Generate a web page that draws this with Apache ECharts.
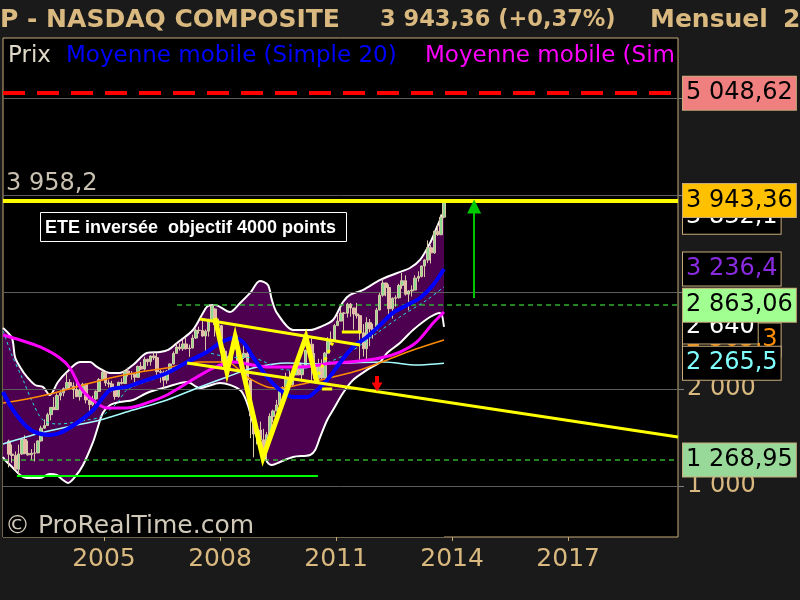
<!DOCTYPE html>
<html><head><meta charset="utf-8">
<script src="https://cdn.jsdelivr.net/npm/echarts@6/dist/echarts.min.js"></script>
<style>html,body{margin:0;padding:0;background:#1a1a1a}#c{width:800px;height:600px}</style>
</head><body><div id="c"></div>
<script>
// ---------- DATA ----------
// Monthly candles, July 2002 .. October 2013
const startYear = 2002, startMonth = 7;
const open = [1463,1328,1315,1172,1330,1479,
 1336,1321,1337,1341,1464,1596,1623,1735,1810,1787,1932,1960,
 2003,2066,2030,1994,1920,1987,2048,1887,1838,1897,1975,2097,
 2175,2062,2052,1999,1922,2068,2057,2185,2152,2152,2120,2233,
 2205,2306,2281,2340,2323,2179,2172,2091,2184,2258,2367,2432,
 2415,2464,2416,2422,2525,2605,2603,2546,2596,2701,2825,2661,
 2652,2390,2271,2279,2413,2523,2293,2326,2368,2092,1721,1536,
 1577,1476,1378,1529,1717,1774,1835,1979,2009,2122,2045,2145,
 2269,2147,2238,2398,2461,2257,2109,2255,2114,2369,2507,2498,
 2653,2700,2782,2781,2874,2835,2774,2756,2579,2415,2684,2620,
 2605,2814,2967,3092,3046,2827,2935,2940,3067,3116,2977,3010,
 3020,3142,3160,3268,3329,3456,3403,3626,3590,3771];
const high = [1478,1426,1356,1426,1494,1522,
 1467,1381,1441,1470,1621,1686,1754,1814,1916,1955,1985,2016,
 2154,2101,2069,2080,2005,2064,2055,1888,1930,1986,2112,2191,
 2179,2096,2084,2002,2076,2110,2188,2219,2185,2160,2240,2278,
 2332,2313,2345,2375,2370,2200,2190,2195,2263,2387,2469,2470,
 2508,2531,2458,2559,2623,2642,2725,2613,2725,2862,2831,2724,
 2661,2419,2341,2426,2551,2550,2352,2473,2384,2100,1773,1622,
 1664,1589,1555,1749,1787,1888,1986,2028,2168,2190,2187,2295,
 2326,2253,2404,2535,2520,2370,2311,2306,2382,2534,2593,2671,
 2767,2840,2794,2888,2887,2837,2887,2766,2669,2739,2721,2673,
 2836,2989,3134,3095,3079,2945,2966,3085,3197,3171,3020,3068,
 3172,3213,3270,3338,3532,3482,3628,3697,3798,3958];
const low = [1192,1240,1172,1108,1320,1327,
 1312,1271,1253,1338,1458,1590,1620,1677,1786,1783,1883,1925,
 2002,2004,1897,1917,1880,1956,1851,1750,1823,1883,1970,2090,
 2030,2016,1974,1889,1911,2047,2055,2129,2096,2025,2118,2195,
 2189,2239,2240,2297,2135,2065,2012,2054,2160,2252,2365,2396,
 2393,2406,2331,2420,2515,2570,2537,2386,2540,2700,2541,2604,
 2203,2253,2155,2270,2403,2283,2167,2310,1983,1493,1295,1428,
 1472,1375,1265,1520,1655,1772,1727,1954,1976,2040,2024,2145,
 2140,2100,2237,2382,2061,2100,2091,2101,2112,2364,2459,2497,
 2652,2698,2603,2736,2745,2614,2726,2300,2335,2298,2441,2519,
 2603,2812,2950,2956,2726,2726,2847,2933,3032,2962,2810,2953,
 3020,3106,3150,3154,3298,3294,3393,3578,3586,3760];
const close = [1328,1315,1172,1330,1479,1336,
 1321,1337,1341,1464,1596,1623,1735,1810,1787,1932,1960,2003,
 2066,2030,1994,1920,1987,2048,1887,1838,1897,1975,2097,2175,
 2062,2052,1999,1922,2068,2057,2185,2152,2152,2120,2233,2205,
 2306,2281,2340,2323,2179,2172,2091,2184,2258,2367,2432,2415,
 2464,2416,2422,2525,2605,2603,2546,2596,2701,2859,2661,2652,
 2390,2271,2279,2413,2523,2293,2326,2368,2092,1721,1536,1577,
 1476,1378,1529,1717,1774,1835,1979,2009,2122,2045,2145,2269,
 2147,2238,2398,2461,2257,2109,2255,2114,2369,2507,2498,2653,
 2700,2782,2781,2874,2835,2774,2756,2579,2415,2684,2620,2605,
 2814,2967,3092,3046,2827,2935,2940,3067,3116,2977,3010,3020,
 3142,3160,3268,3329,3456,3403,3626,3590,3771,3943];

// Indicators (decimal year, value)
const bbUpperX = [2002.39,2002.62,2002.70,2002.83,2003.01,2003.22,2003.42,2003.60,2003.81,2004.04,2004.38,2004.64,2004.82,2005.16,2005.41,2005.75,2006.11,2006.45,2006.66,2006.89,2007.30,2007.56,2007.69,2007.87,2008.26,2008.52,2008.78,2009.03,2009.24,2009.34,2009.47,2009.89,2010.33,2010.59,2010.92,2011.18,2011.36,2011.70,2012.14,2012.58,2012.91,2013.17,2013.43,2013.61,2013.79];
const bbUpperY = [2629,2526,2330,2227,2124,2041,2021,1938,2072,2175,2278,2278,2227,2165,2165,2247,2371,2381,2402,2474,2608,2784,2856,2866,2794,2887,2990,3113,3072,2918,2784,2608,2608,2639,2711,2897,2969,3021,3124,3196,3247,3330,3505,3670,3832.1];
const bbLowerX = [2002.39,2002.44,2002.65,2002.83,2003.01,2003.35,2003.60,2003.78,2003.94,2004.07,2004.25,2004.46,2004.72,2004.82,2004.97,2005.16,2005.41,2005.75,2006.11,2006.63,2007.15,2007.48,2008.00,2008.52,2008.70,2008.85,2009.03,2009.22,2009.34,2009.55,2009.89,2010.33,2010.46,2010.59,2010.77,2010.92,2011.18,2011.44,2011.80,2012.14,2012.32,2012.65,2012.99,2013.43,2013.69,2013.79];
const bbLowerY = [1300,1268,1186,1113,1082,1082,1124,1113,1062,1031,1093,1216,1454,1577,1753,1835,1866,1887,1959,2021,2072,2010,2062,1990,1856,1649,1402,1247,1216,1247,1299,1320,1371,1505,1680,1783,1959,2093,2196,2278,2371,2474,2608,2742,2784,2640];
const ma20X = [2002.39,2002.65,2003.01,2003.27,2003.60,2003.86,2004.30,2004.72,2005.16,2005.59,2006.11,2006.63,2007.15,2007.66,2008.00,2008.34,2008.59,2008.85,2009.22,2009.55,2009.89,2010.25,2010.51,2010.77,2011.10,2011.44,2011.80,2012.14,2012.47,2012.84,2013.17,2013.51,2013.79];
const ma20Y = [1969,1783,1608,1546,1526,1546,1649,1783,1990,2021,2093,2165,2278,2381,2474,2526,2485,2330,2124,1990,1917,1917,1990,2093,2268,2433,2536,2660,2784,2866,2938,3072,3236.4];
const maPinkX = [2002.39,2002.83,2003.35,2003.86,2004.12,2004.38,2004.64,2005.08,2005.59,2006.11,2006.63,2007.15,2007.82,2008.34,2009.22,2010.07,2010.92,2011.36,2012.14,2012.65,2013.09,2013.51,2013.79];
const maPinkY = [2557,2505,2433,2320,2216,2021,1907,1804,1804,1856,1938,2062,2216,2278,2227,2227,2268,2278,2320,2381,2485,2680,2794];
const maOrangeX = [2002.39,2003.01,2003.60,2004.38,2005.16,2005.93,2006.63,2007.48,2008.18,2008.70,2009.22,2009.55,2010.25,2010.92,2011.62,2012.32,2012.99,2013.79];
const maOrangeY = [1856,1897,1948,2031,2113,2175,2216,2278,2278,2124,2021,2010,2062,2124,2196,2299,2402,2505.3];
const maCyanX = [2002.39,2003.35,2004.04,2004.90,2005.75,2006.63,2007.48,2008.18,2008.85,2009.73,2010.51,2011.36,2012.22,2013.09,2013.79];
const maCyanY = [1433,1546,1608,1680,1783,1887,2021,2124,2216,2268,2258,2268,2278,2247,2265.5];
const maDashX = [2002.39,2002.62,2002.91,2003.16,2003.42,2003.78,2004.12,2004.56,2004.90,2005.34,2005.59,2006.01,2006.45,2007.15,2007.66,2008.18,2008.85,2009.73,2010.59,2011.36,2012.06,2012.65,2013.35,2013.79];
const maDashY = [2600,2350,2093,1856,1680,1639,1649,1680,1711,1856,1990,2062,2124,2278,2371,2330,2320,2196,2247,2381,2577,2742,2918,3052];

// Drawn figure (inverted head & shoulders) and trend lines
const zigzagX = [2007.87,2008.18,2008.39,2009.11,2010.22,2010.51];
const zigzagY = [2732,2175,2536,1289,2536,2062];
const neckUpX = [2007.48,2011.62], neckUpY = [2722,2454];
const neckLowX = [2007.15,2019.84], neckLowY = [2268,1505];
const supportX = [2002.75,2010.53], supportY = [1103,1103];
const seg1X = [2011.15,2011.65], seg1Y = [2588,2588];
const seg2X = [2010.64,2010.90], seg2Y = [2000,2000];
const dotX = [2010.46,2010.92], dotY = [2072,2485];
const greenArrowX = 2014.57, greenArrowY = [2938,3881];
const redArrowX = 2012.06, redArrowY = [2134,2021];
const dashed2863Start = 2006.89;

// Price levels on the right scale
const levelValues   = [2505.3, 2640, 2265.5, 3236.4, 2863.06, 3832.1, 3943.36, 5048.62, 1268.95];
const levelDecimals = [1, 0, 1, 1, 2, 1, 2, 2, 2];
const gridValues = [1000, 2000, 3000, 4000, 5000];
const yLabelValues = [1000, 2000];
const yearTicks = [2005, 2008, 2011, 2014, 2017];
const resistance = 5048.62, lastPrice = 3943.36, level2863 = 2863.06, level1268 = 1268.95;

// ---------- STYLE ----------
const TAN = '#d9b97f';
const FONT = '"DejaVu Sans", sans-serif';
const levelStyles = [
  {fg:'#ff8c00', bg:'#000', dy:0}, {fg:'#ffffff', bg:'#000', dy:0}, {fg:'#80ffff', bg:'#000', dy:0},
  {fg:'#8a2be2', bg:'#000', dy:0}, {fg:'#000', bg:'#a0ff90', dy:0}, {fg:'#ffffff', bg:'#000', dy:6},
  {fg:'#000', bg:'#ffc000', dy:0}, {fg:'#000', bg:'#f08080', dy:0}, {fg:'#000', bg:'#98d898', dy:0}
];

function thousands(s){ return s.replace(/\B(?=(\d{3})+(?!\d))/g, ' '); }
function fmt(v, d){ const p = v.toFixed(d).split('.'); return thousands(p[0]) + (d ? ',' + p[1] : ''); }
function monthX(i){ const m = startMonth - 1 + i; return startYear + Math.floor(m / 12) + ((m % 12) + 0.5) / 12; }
function zip(xs, ys){ return xs.map((x, i) => [x, ys[i]]); }

const candleData = close.map((c, i) => [monthX(i), open[i], c, low[i], high[i]]);

const X_MIN = 2002.39, X_MAX = 2019.84;
const lineBase = {type:'line', showSymbol:false, symbol:'none', silent:true, animation:false};

const chart = echarts.init(document.getElementById('c'));
chart.setOption({
  animation: false,
  backgroundColor: '#1a1a1a',
  grid: {left:3, right:122, top:38, bottom:63, show:true, backgroundColor:'#000', borderColor:'#c8aa7a', borderWidth:1},
  xAxis: {type:'value', min:X_MIN, max:X_MAX,
    axisLine:{show:false}, splitLine:{show:false},
    axisTick:{show:true, customValues:yearTicks, length:4, lineStyle:{color:'#c8aa7a'}},
    axisLabel:{customValues:yearTicks, color:TAN, fontSize:25, fontFamily:FONT, margin:10, formatter:v => String(Math.round(v))}},
  yAxis: {type:'value', position:'right', min:474, max:5618,
    axisLine:{show:false}, splitLine:{show:false},
    axisTick:{show:true, customValues:gridValues, length:6, lineStyle:{color:'#808080'}},
    axisLabel:{customValues:yLabelValues, color:TAN, fontSize:24, fontFamily:FONT, margin:9, formatter:v => thousands(String(v))}},
  series: [
    {...lineBase, data:zip(bbUpperX, bbUpperY), smooth:0.3, lineStyle:{color:'#fff', width:2}, areaStyle:{color:'#4e0050', opacity:1, origin:'start'}, z:1},
    {...lineBase, data:zip(bbLowerX, bbLowerY), smooth:0.3, lineStyle:{color:'#fff', width:2}, areaStyle:{color:'#000', opacity:1, origin:'start'}, z:1},
    {type:'line', data:[], silent:true, z:1,
      markLine:{z:1.5, silent:true, symbol:'none', animation:false, label:{show:false},
        lineStyle:{color:'#5c5c5c', width:1, type:'solid'}, data:gridValues.map(v => ({yAxis:v}))}},
    {type:'line', data:[], silent:true, z:1,
      markLine:{z:1.6, silent:true, symbol:'none', animation:false, label:{show:false},
        lineStyle:{color:'#30b030', width:1.5, type:[5,4]},
        data:[{yAxis:level1268}, [{coord:[dashed2863Start, level2863]}, {coord:[X_MAX, level2863]}]]}},
    {type:'candlestick', data:candleData, encode:{x:0, y:[1,2,3,4]}, barWidth:3, silent:true, z:2,
      itemStyle:{color:'#8fd88f', color0:'#f0b4aa', borderColor:'#d8c8a8', borderColor0:'#d8c8a8', borderWidth:1}},
    {...lineBase, data:zip(maCyanX, maCyanY), smooth:0.3, lineStyle:{color:'#a8ffff', width:1.5}, z:3},
    {...lineBase, data:zip(maDashX, maDashY), smooth:0.3, lineStyle:{color:'#20e0e0', width:1, type:[3,3]}, z:3},
    {...lineBase, data:zip(maOrangeX, maOrangeY), smooth:0.3, lineStyle:{color:'#ff8c00', width:1.5}, z:3},
    {...lineBase, data:zip(maPinkX, maPinkY), smooth:0.3, lineStyle:{color:'#ff00ff', width:3}, z:3},
    {...lineBase, data:zip(ma20X, ma20Y), smooth:0.3, lineStyle:{color:'#0000ff', width:4}, z:3},
    {...lineBase, data:zip(neckUpX, neckUpY), lineStyle:{color:'#ffff00', width:3}, z:4},
    {...lineBase, data:zip(neckLowX, neckLowY), lineStyle:{color:'#ffff00', width:3}, z:4},
    {...lineBase, data:zip(seg1X, seg1Y), lineStyle:{color:'#ffff00', width:3}, z:4},
    {...lineBase, data:zip(seg2X, seg2Y), lineStyle:{color:'#ffff00', width:3}, z:4},
    {...lineBase, data:zip(dotX, dotY), lineStyle:{color:'#ffff00', width:3, type:[3,5]}, z:4},
    {...lineBase, data:zip(zigzagX, zigzagY), lineStyle:{color:'#ffff00', width:5, join:'miter'}, z:4},
    {...lineBase, data:zip(supportX, supportY), lineStyle:{color:'#00ff00', width:2}, z:4},
    {type:'line', data:[], silent:true, z:4,
      markLine:{z:5, silent:true, animation:false, symbol:'none', label:{show:false},
        data:[
          {yAxis:resistance, lineStyle:{color:'#ff0000', width:4, type:[22,12]}},
          {yAxis:lastPrice, lineStyle:{color:'#ffff00', width:4, type:'solid'}}
        ]}},
    {type:'line', data:[], silent:true, z:4,
      markLine:{z:5, silent:true, animation:false, symbol:['none','triangle'], label:{show:false},
        data:[
          [{coord:[greenArrowX, greenArrowY[0]], symbolSize:[14,14], lineStyle:{color:'#00c800', width:2, type:'solid'}, itemStyle:{color:'#00e000'}},
           {coord:[greenArrowX, greenArrowY[1]], symbolSize:[14,14], itemStyle:{color:'#00e000'}}],
          [{coord:[redArrowX, redArrowY[0]], symbolSize:[11,9], lineStyle:{color:'#ff0000', width:4, type:'solid'}, itemStyle:{color:'#ff0000'}},
           {coord:[redArrowX, redArrowY[1]], symbolSize:[11,9], itemStyle:{color:'#ff0000'}}]
        ]}},
    {type:'line', data:[], silent:true, z:6,
      markLine:{z:6, silent:true, symbol:'none', animation:false,
        data: levelValues.map((v, i) => ({
          yAxis: v,
          lineStyle:{color:'rgba(0,0,0,0)', width:1, type:'solid'},
          label:{show:true, position:'end', distance:5, offset:[0, levelStyles[i].dy], formatter:fmt(v, levelDecimals[i]),
            color:levelStyles[i].fg, backgroundColor:levelStyles[i].bg, borderColor:'#c8aa7a', borderWidth:1,
            padding:[3,3,3,3], fontSize:24, lineHeight:27, fontFamily:FONT}
        }))}}
  ],
  graphic: [
    {type:'text', x:0, y:20, z:100, style:{text:'P - NASDAQ COMPOSITE', fill:TAN, font:'bold 25px "DejaVu Sans"', textVerticalAlign:'middle', verticalAlign:'middle'}},
    {type:'text', x:380, y:20, z:100, style:{text:'3 943,36 (+0,37%)', fill:TAN, font:'bold 22.5px "DejaVu Sans"', textVerticalAlign:'middle', verticalAlign:'middle'}},
    {type:'text', x:650, y:20, z:100, style:{text:'Mensuel', fill:TAN, font:'bold 25px "DejaVu Sans"', textVerticalAlign:'middle', verticalAlign:'middle'}},
    {type:'text', x:783, y:20, z:100, style:{text:'25/10/2013', fill:TAN, font:'bold 25px "DejaVu Sans"', textVerticalAlign:'middle', verticalAlign:'middle'}},
    {type:'text', x:8, y:56, z:100, style:{text:'Prix', fill:'#e0d8c8', font:'23px "DejaVu Sans"', textVerticalAlign:'middle', verticalAlign:'middle'}},
    {type:'text', x:66, y:56, z:100, style:{text:'Moyenne mobile (Simple 20)', fill:'#0000ff', font:'23px "DejaVu Sans"', textVerticalAlign:'middle', verticalAlign:'middle'}},
    {type:'text', x:425, y:56, z:100, style:{text:'Moyenne mobile (Sim', fill:'#ff00ff', font:'23px "DejaVu Sans"', textVerticalAlign:'middle', verticalAlign:'middle'}},
    {type:'text', x:6, y:184, z:100, style:{text:'3 958,2', fill:'#c8c0b0', font:'24px "DejaVu Sans"', textVerticalAlign:'middle', verticalAlign:'middle'}},
    {type:'rect', z:100, shape:{x:40.5, y:212.5, width:306, height:29}, style:{fill:'#000', stroke:'#fff', lineWidth:1}},
    {type:'text', x:45, y:228, z:101, style:{text:'ETE inversée  objectif 4000 points', fill:'#fff', font:'bold 18px "Liberation Sans"', textVerticalAlign:'middle', verticalAlign:'middle'}},
    {type:'text', x:5, y:526, z:100, style:{text:'© ProRealTime.com', fill:'#d0c8b8', font:'25px "DejaVu Sans"', textVerticalAlign:'middle', verticalAlign:'middle'}}
  ]
});
</script></body></html>
